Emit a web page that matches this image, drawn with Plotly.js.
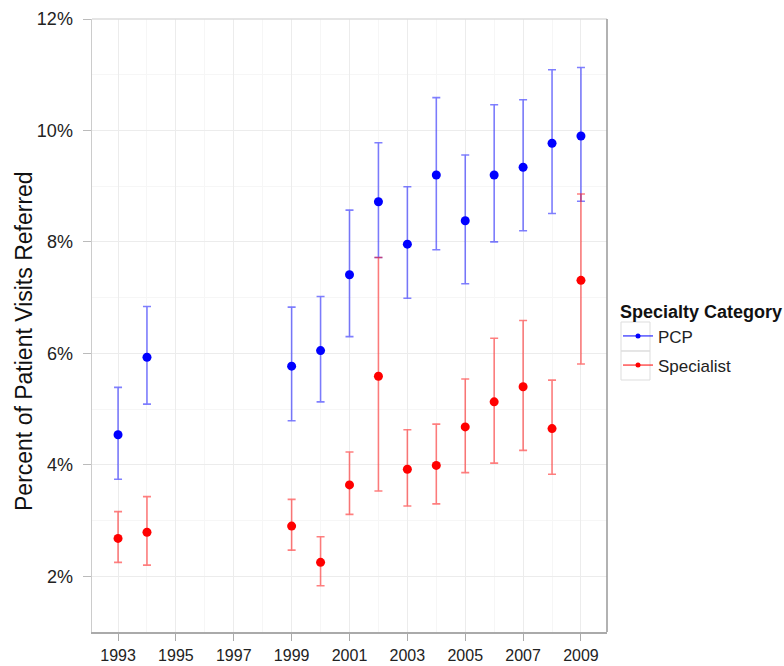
<!DOCTYPE html>
<html>
<head>
<meta charset="utf-8">
<script src="https://cdn.plot.ly/plotly-3.0.1.min.js"></script>
<style>html,body{margin:0;padding:0;background:#fff;}#chart{width:784px;height:666px;}</style>
</head>
<body>
<div id="chart"></div>
<script>
const years = [1993, 1994, 1999, 2000, 2001, 2002, 2003, 2004, 2005, 2006, 2007, 2008, 2009];
const pcpValue = [4.54, 5.93, 5.77, 6.05, 7.41, 8.72, 7.96, 9.20, 8.38, 9.20, 9.34, 9.77, 9.90];
const pcpUpper = [5.39, 6.84, 6.83, 7.02, 8.57, 9.78, 8.99, 10.59, 9.56, 10.46, 10.55, 11.09, 11.13];
const pcpLower = [3.74, 5.09, 4.79, 5.13, 6.30, 7.72, 6.99, 7.86, 7.25, 8.00, 8.20, 8.51, 8.73];
const specValue = [2.68, 2.79, 2.90, 2.25, 3.64, 5.59, 3.92, 3.99, 4.68, 5.13, 5.40, 4.65, 7.31];
const specUpper = [3.16, 3.43, 3.38, 2.71, 4.23, 7.72, 4.63, 4.73, 5.54, 6.27, 6.59, 5.52, 8.86];
const specLower = [2.25, 2.20, 2.47, 1.83, 3.11, 3.53, 3.26, 3.30, 3.86, 4.03, 4.26, 3.83, 5.81];
const seriesNames = ['PCP', 'Specialist'];
const yTickVals = [2, 4, 6, 8, 10, 12];
const yTitle = 'Percent of Patient Visits Referred';

function errTrace(name, vals, up, lo, color, errColor) {
  return {
    type: 'scatter', mode: 'markers', x: years, y: vals, name: name, showlegend: false,
    marker: {color: color, size: 9},
    error_y: {type: 'data', symmetric: false,
      array: vals.map((v, i) => up[i] - v),
      arrayminus: vals.map((v, i) => v - lo[i]),
      color: errColor, thickness: 1.6, width: 4}
  };
}
function legTrace(name, color) {
  return {type: 'scatter', mode: 'lines+markers', x: [null], y: [null], name: name,
    legendgroup: name,
    line: {color: color, width: 1}, marker: {color: color, size: 5}};
}

const data = [
  errTrace(seriesNames[0], pcpValue, pcpUpper, pcpLower, '#0000ff', 'rgba(0,0,255,0.5)'),
  errTrace(seriesNames[1], specValue, specUpper, specLower, '#ff0000', 'rgba(255,0,0,0.5)'),
  legTrace(seriesNames[0], '#0000ff'),
  legTrace(seriesNames[1], '#ff0000')
];

const W = 784, H = 666, L = 92, R = 177, T = 19, B = 34;
const pw = W - L - R, ph = H - T - B;
function px(x) { return (x - L) / pw; }
function py(y) { return 1 - (y - T) / ph; }
const boxShapes = [322, 351].map(top => ({
  type: 'rect', xref: 'paper', yref: 'paper',
  x0: px(621), x1: px(650), y0: py(top), y1: py(top + 29),
  line: {color: '#dddddd', width: 1}, fillcolor: 'rgba(0,0,0,0)'
}));

const layout = {
  width: W, height: H,
  margin: {l: L, r: R, t: T, b: B, autoexpand: false},
  paper_bgcolor: '#ffffff', plot_bgcolor: '#ffffff',
  font: {family: 'Liberation Sans, Arial, sans-serif', color: '#222', size: 16},
  xaxis: {
    range: [1992.1, 2009.9], tick0: 1993, dtick: 2, tickmode: 'linear',
    showgrid: true, gridcolor: '#ececec', gridwidth: 1,
    minor: {dtick: 1, tick0: 1993, showgrid: true, gridcolor: '#f6f6f6', gridwidth: 1},
    showline: true, linecolor: '#aaaaaa', linewidth: 1.5, mirror: false,
    ticks: 'outside', ticklen: 7, tickcolor: '#aaaaaa', tickwidth: 1,
    ticklabelstandoff: 1, automargin: false,
    zeroline: false, tickfont: {size: 16, color: '#222'}
  },
  yaxis: {
    range: [1.0, 12.0], tickvals: yTickVals, ticktext: yTickVals.map(v => v + '%'),
    showgrid: true, gridcolor: '#ececec', gridwidth: 1,
    minor: {tickvals: [3, 5, 7, 9, 11], showgrid: true, gridcolor: '#f6f6f6', gridwidth: 1},
    showline: true, linecolor: '#cccccc', linewidth: 1.5,
    ticks: 'outside', ticklen: 8, tickcolor: '#bbbbbb', tickwidth: 1,
    ticklabelstandoff: 6, automargin: false,
    zeroline: false, tickfont: {size: 18, color: '#222'}
  },
  annotations: [{
    text: yTitle, textangle: -90, showarrow: false,
    xref: 'paper', yref: 'paper', x: px(24), y: py(341), xanchor: 'center', yanchor: 'middle',
    font: {size: 23, color: '#111'}
  }],
  shapes: [
    {type: 'line', xref: 'paper', yref: 'paper', x0: 0, x1: 1, y0: 1, y1: 1, line: {color: '#dddddd', width: 1.5}},
    {type: 'line', xref: 'paper', yref: 'paper', x0: 1, x1: 1, y0: 0, y1: 1, line: {color: '#999999', width: 1.5}}
  ].concat(boxShapes),
  legend: {
    xref: 'container', yref: 'container', bgcolor: 'rgba(0,0,0,0)',
    x: 618 / W, xanchor: 'left', y: 1 - 295 / H, yanchor: 'top',
    title: {text: '<b>Specialty Category</b>', font: {size: 18, color: '#111'}},
    font: {size: 17, color: '#222'}, tracegroupgap: 4, itemwidth: 30
  }
};

Plotly.newPlot('chart', data, layout, {displayModeBar: false, staticPlot: true});
</script>
</body>
</html>
